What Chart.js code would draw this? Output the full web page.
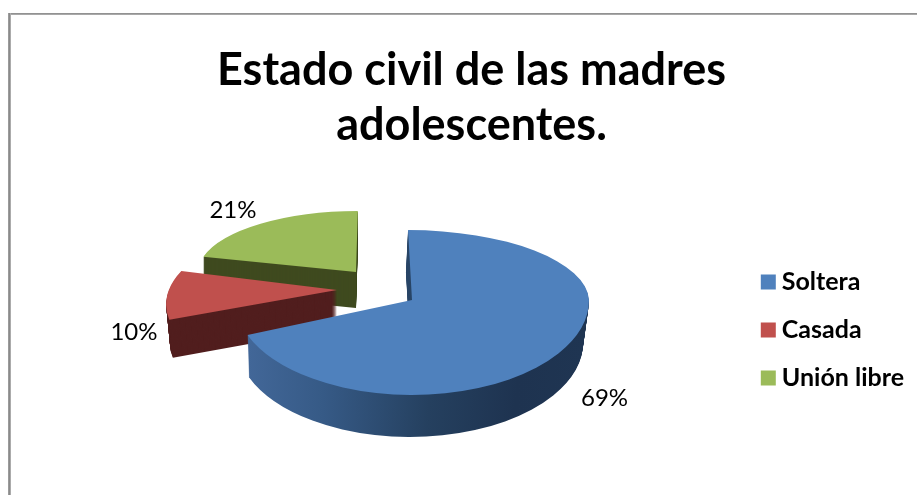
<!DOCTYPE html>
<html lang="es">
<head>
<meta charset="utf-8">
<title>Estado civil de las madres adolescentes</title>
<script src="https://cdn.jsdelivr.net/npm/chart.js@4"></script>
<style>
    html, body { margin: 0; padding: 0; background: #fff; overflow: hidden; }
    #chart-box { position: relative; width: 917px; height: 495px; }
    #frame-top { position: absolute; left: 9px; top: 13px; right: 0; height: 2px; background: linear-gradient(#868686, #b4b4b4); }
    #frame-left { position: absolute; left: 8px; top: 13px; bottom: 0; width: 3px; background: linear-gradient(90deg, #a4a4a4, #8a8a8a, #bcbcbc); }
</style>
</head>
<body>
<div id="chart-box">
    <canvas id="estadoCivil" width="917" height="495"></canvas>
    <div id="frame-top"></div>
    <div id="frame-left"></div>
</div>
<script>
const categorias = ['Soltera', 'Casada', 'Unión libre'];
const porcentajes = [69, 10, 21];
const colores = ['#4f81bd', '#c0504d', '#9bbb59'];
const tituloLineas = ['Estado civil de las madres', 'adolescentes.'];

// how each slice sits in the tilted view: pulled away from the pie centre,
// foreshortened and sheared above and below its own apex, extruded downwards
const PIE_CENTER = { x: 412, y: 300 };
const PIE_RADIUS = 177;
const sliceViews = [
    { shiftX: 0, shiftY: 0, scaleX: 1, scaleUp: 0.395, scaleDown: 0.537, shearUp: 0.057, shearDown: 0, depth: 42, lean: -0.05, taper: 0.0005, reach: 1.315, labelDrop: 28 },
    { shiftX: -75, shiftY: -10, scaleX: 0.95, scaleUp: 0.43, scaleDown: 0.458, shearUp: -0.38, shearDown: -0.38, depth: 38, lean: 0, taper: 0.0006, reach: 1.21, labelDrop: 36 },
    { shiftX: -56, shiftY: -28, scaleX: 0.893, scaleUp: 0.345, scaleDown: 0.345, shearUp: -0.03, shearDown: 0, depth: 36, lean: 0, taper: 0, reach: 1.27, labelDrop: 0 }
];
const wallColors = ['', '#511e1e', '#3f4a1f'];

// where the legend column ends up relative to the default layout
const LEGEND_NUDGE = { x: -3, y: 61 };

function paintArc(ctx, arc, view, t, fill) {
    const w = ctx.canvas.width;
    const h = ctx.canvas.height;
    const apexX = PIE_CENTER.x + view.shiftX;
    const apexY = PIE_CENTER.y + view.shiftY;
    const seam = Math.round(apexY + t);
    const shrink = 1 - t * view.taper;
    const painted = Object.create(arc);
    painted.options = Object.assign({}, arc.options, { backgroundColor: fill, borderWidth: 0 });

    // upper and lower half get their own vertical scale, the front looks larger
    [[0, seam, view.scaleUp, view.shearUp], [seam, h - seam, view.scaleDown, view.shearDown]].forEach(function(part) {
        ctx.save();
        ctx.beginPath();
        ctx.rect(0, part[0], w, part[1]);
        ctx.clip();
        ctx.translate(apexX + t * view.lean, seam);
        ctx.transform(1, 0, part[3], 1, 0, 0);
        ctx.scale(view.scaleX * shrink, part[2]);
        ctx.translate(-arc.x, -arc.y);
        Chart.ArcElement.prototype.draw.call(painted, ctx);
        ctx.restore();
    });
}

const pie3d = {
    id: 'pie3d',
    afterLayout(chart) {
        const legend = chart.legend;
        legend.left += LEGEND_NUDGE.x;
        legend.right += LEGEND_NUDGE.x;
        legend.top += LEGEND_NUDGE.y;
        legend.bottom += LEGEND_NUDGE.y;
    },
    beforeDatasetsDraw(chart) {
        const ctx = chart.ctx;
        const arcs = chart.getDatasetMeta(0).data;

        // far slices first so the nearer ones cover them
        for (let i = arcs.length - 1; i >= 0; i--) {
            const arc = arcs[i];
            const view = sliceViews[i];
            let wall = wallColors[i];
            if (!wall) {
                wall = ctx.createLinearGradient(arc.x - PIE_RADIUS, 0, arc.x + PIE_RADIUS, 0);
                wall.addColorStop(0, '#44699b');
                wall.addColorStop(0.25, '#365a86');
                wall.addColorStop(0.55, '#25405f');
                wall.addColorStop(0.8, '#1e3350');
                wall.addColorStop(1, '#1f3552');
            }
            for (let t = view.depth; t > 0; t--) {
                paintArc(ctx, arc, view, t, wall);
            }
            paintArc(ctx, arc, view, 0, colores[i]);
        }
        return false;
    },
    afterDraw(chart) {
        const ctx = chart.ctx;
        const arcs = chart.getDatasetMeta(0).data;
        ctx.save();
        ctx.font = '24px Lato';
        ctx.fillStyle = '#000';
        ctx.textAlign = 'center';
        ctx.textBaseline = 'middle';
        arcs.forEach(function(arc, i) {
            const view = sliceViews[i];
            const mid = (arc.startAngle + arc.endAngle) / 2;
            const dirX = Math.cos(mid);
            const dirY = Math.sin(mid);
            const down = dirY > 0;
            const x = PIE_CENTER.x + view.shiftX + dirX * PIE_RADIUS * view.reach * view.scaleX;
            const y = PIE_CENTER.y + view.shiftY + dirY * PIE_RADIUS * view.reach * (down ? view.scaleDown : view.scaleUp) + view.labelDrop;
            ctx.fillText(porcentajes[i] + '%', x, y);
        });
        ctx.restore();
    }
};

new Chart(document.getElementById('estadoCivil'), {
    type: 'pie',
    plugins: [pie3d],
    data: {
        labels: categorias,
        datasets: [{
            data: porcentajes,
            backgroundColor: colores,
            borderWidth: 0
        }]
    },
    options: {
        responsive: false,
        animation: false,
        events: [],
        radius: PIE_RADIUS,
        layout: { padding: { left: 26, right: 0, top: 43, bottom: 0 } },
        plugins: {
            tooltip: { enabled: false },
            title: {
                display: true,
                text: tituloLineas,
                color: '#000',
                font: { family: 'Lato', size: 45, weight: 'bold', lineHeight: 1.22 },
                padding: { top: 0, bottom: 20 }
            },
            legend: {
                position: 'right',
                labels: {
                    color: '#000',
                    font: { family: 'Lato', size: 25, weight: 'bold' },
                    usePointStyle: true,
                    pointStyle: 'rect',
                    boxWidth: 2,
                    boxHeight: 15,
                    padding: 23
                }
            }
        }
    }
});
</script>
</body>
</html>
